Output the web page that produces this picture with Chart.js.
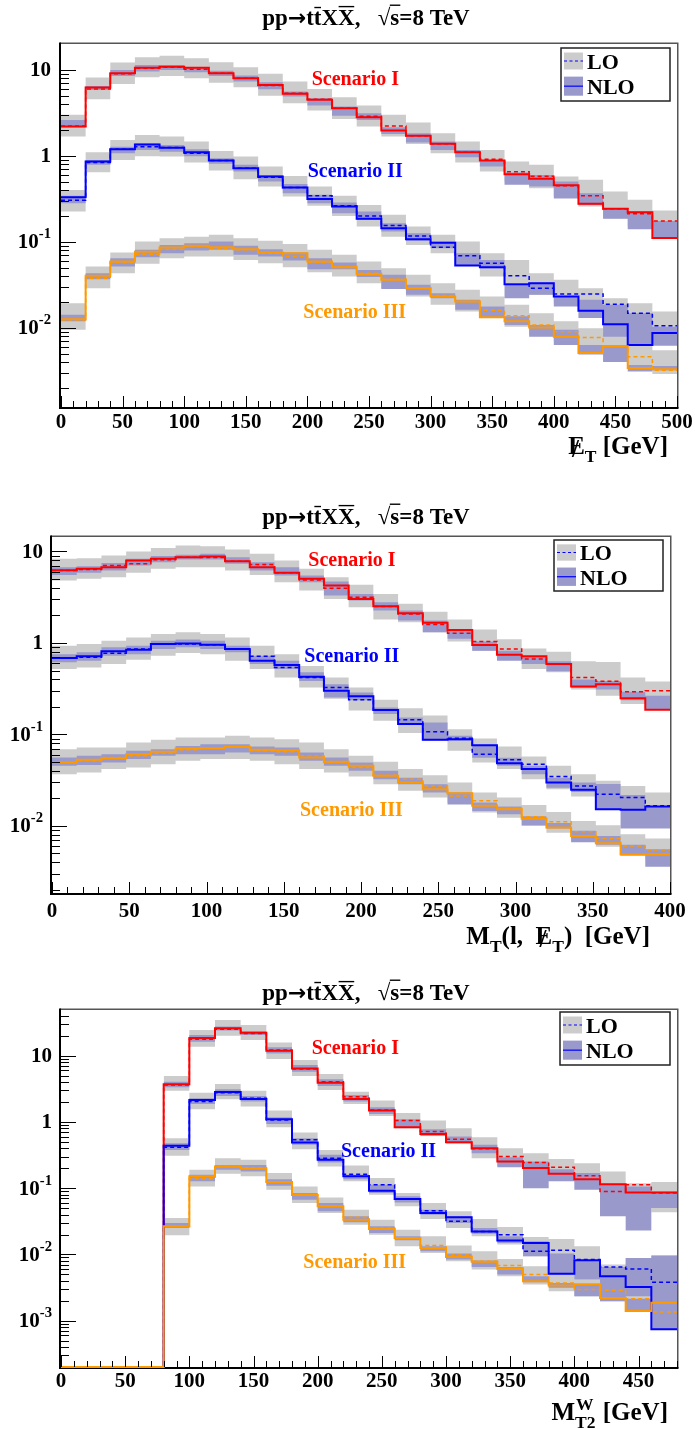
<!DOCTYPE html>
<html>
<head>
<meta charset="utf-8">
<title>pp → tt̄XX̄ at √s = 8 TeV</title>
<script src="https://cdn.jsdelivr.net/npm/chart.js@4.4.1/dist/chart.umd.min.js"></script>
<style>
  html, body { margin: 0; padding: 0; background: #fff; }
  body { width: 695px; height: 1429px; position: relative; overflow: hidden; }
  canvas { position: absolute; left: 0; }
</style>
</head>
<body>
<canvas id="met" width="695" height="475" style="top:0px"></canvas>
<canvas id="mt" width="695" height="485" style="top:475px"></canvas>
<canvas id="mt2" width="695" height="469" style="top:960px"></canvas>
<script>
// ---------------------------------------------------------------------------
// Missing transverse energy, 20 GeV bins
// ---------------------------------------------------------------------------
const metEdges = [0,20,40,60,80,100,120,140,160,180,200,220,240,260,280,300,320,340,360,380,400,420,440,460,480,500];
const metXTicks = [0,50,100,150,200,250,300,350,400,450,500];
const metYTicks = [1e-2, 1e-1, 1, 10];

const metS1Lo      = [2.23,6.01,8.99,10.45,10.7,10.2,9.15,8.0,6.57,5.35,4.56,3.58,2.89,2.23,1.71,1.38,1.10,0.914,0.652,0.580,0.448,0.343,0.242,0.212,0.175];
const metS1Nlo     = [2.19,6.23,9.15,10.6,10.9,10.6,9.15,8.0,6.69,5.26,4.48,3.58,2.82,1.97,1.71,1.38,1.10,0.883,0.612,0.541,0.456,0.277,0.242,0.221,0.111];
const metS1LoLow   = [1.68,4.56,6.87,8.2,8.5,8.0,7.1,6.28,4.99,4.10,3.37,2.69,2.19,1.68,1.37,1.07,0.837,0.657,0.503,0.421,0.337,0.258,0.188,0.151,0.110];
const metS1LoHigh  = [3.0,8.14,12.2,14.0,14.6,13.7,12.3,10.7,8.99,7.31,6.0,4.81,3.85,3.0,2.44,1.83,1.47,1.17,0.859,0.786,0.575,0.526,0.385,0.308,0.232];
const metS1NloLow  = [2.15,5.85,8.5,9.56,10.0,9.4,8.5,7.31,5.95,4.9,3.85,2.92,2.62,1.80,1.43,1.17,0.965,0.752,0.46,0.44,0.319,0.269,0.185,0.140,0.111];
const metS1NloHigh = [2.62,6.5,10.0,11.4,11.4,10.7,9.8,8.6,7.2,5.59,4.69,3.75,3.13,2.15,1.83,1.47,1.17,0.898,0.64,0.60,0.503,0.368,0.246,0.225,0.175];

const metS2Lo      = [0.305,0.837,1.19,1.28,1.25,1.07,0.882,0.719,0.565,0.429,0.343,0.263,0.200,0.155,0.117,0.0866,0.0687,0.0565,0.0403,0.0289,0.0248,0.0248,0.0188,0.0148,0.0106];
const metS2Nlo     = [0.331,0.859,1.19,1.36,1.24,1.10,0.882,0.719,0.575,0.429,0.316,0.258,0.185,0.144,0.107,0.0974,0.0531,0.0508,0.0322,0.0331,0.0232,0.0158,0.0110,0.0063,0.0087];
const metS2LoLow   = [0.225,0.645,0.898,0.99,0.982,0.837,0.675,0.535,0.44,0.337,0.263,0.200,0.151,0.115,0.0922,0.0739,0.0555,0.0396,0.0331,0.0242,0.0193,0.0162,0.0113,0.00947,0.00759];
const metS2LoHigh  = [0.40,1.10,1.53,1.75,1.68,1.47,1.14,0.982,0.752,0.585,0.44,0.343,0.269,0.206,0.151,0.121,0.101,0.0739,0.0617,0.0432,0.0362,0.0289,0.0221,0.0193,0.0155];
const metS2NloLow  = [0.282,0.786,1.07,1.17,1.12,0.99,0.81,0.657,0.503,0.368,0.282,0.215,0.180,0.132,0.103,0.0844,0.0526,0.0494,0.0221,0.0242,0.0177,0.0130,0.0079,0.0063,0.0062];
const metS2NloHigh = [0.343,0.898,1.28,1.40,1.34,1.19,0.939,0.786,0.601,0.472,0.352,0.287,0.225,0.165,0.126,0.101,0.0739,0.0617,0.0316,0.0337,0.0232,0.0212,0.0185,0.0148,0.0103];

const metS3Lo      = [0.0124,0.0378,0.0575,0.0719,0.0822,0.0882,0.0844,0.0808,0.0739,0.0675,0.0580,0.0517,0.0432,0.0368,0.0289,0.0238,0.0202,0.0160,0.0138,0.0108,0.0090,0.0077,0.0061,0.0046,0.0032];
const metS3Nlo     = [0.0126,0.0403,0.0590,0.0766,0.0859,0.0898,0.0866,0.0822,0.0752,0.0739,0.0590,0.0508,0.0421,0.0362,0.0289,0.0232,0.0202,0.0133,0.0119,0.0101,0.0079,0.0051,0.0061,0.0034,0.0033];
const metS3LoLow   = [0.0095,0.0289,0.0432,0.0555,0.0645,0.0675,0.0675,0.0617,0.0565,0.0508,0.0444,0.0396,0.0331,0.0289,0.0232,0.0185,0.0155,0.0130,0.0103,0.0083,0.0069,0.0053,0.0049,0.0034,0.0029];
const metS3LoHigh  = [0.0193,0.0517,0.0752,0.101,0.110,0.115,0.121,0.110,0.103,0.0947,0.0808,0.0706,0.0590,0.0494,0.0414,0.0331,0.0278,0.0232,0.0185,0.0148,0.0119,0.0099,0.0087,0.0063,0.0055];
const metS3NloLow  = [0.0119,0.0368,0.0517,0.0663,0.0739,0.0793,0.0808,0.0706,0.0675,0.0607,0.0481,0.0481,0.0389,0.0282,0.0242,0.0221,0.0162,0.0130,0.0108,0.0079,0.0063,0.0049,0.0040,0.0031,0.0032];
const metS3NloHigh = [0.0142,0.0432,0.0645,0.0808,0.0922,0.0965,0.101,0.0898,0.0822,0.0752,0.0645,0.0575,0.0472,0.0414,0.0316,0.0252,0.0212,0.0177,0.0136,0.0108,0.0095,0.0063,0.0063,0.0037,0.0036];

// ---------------------------------------------------------------------------
// Transverse mass of lepton and missing energy, 16 GeV bins
// ---------------------------------------------------------------------------
const mtEdges = [0,16,32,48,64,80,96,112,128,144,160,176,192,208,224,240,256,272,288,304,320,336,352,368,384,400];
const mtXTicks = [0,50,100,150,200,250,300,350,400];
const mtYTicks = [1e-2, 1e-1, 1, 10];

const mtS1Lo      = [6.19,6.35,7.03,7.33,8.11,8.67,8.60,7.84,7.21,5.84,4.89,3.97,3.16,2.50,2.08,1.59,1.28,1.04,0.860,0.668,0.589,0.420,0.381,0.293,0.300];
const mtS1Nlo     = [6.25,6.46,6.73,7.97,8.31,8.67,8.82,7.84,6.73,5.84,5.02,4.25,3.03,2.52,2.11,1.66,1.39,0.951,0.745,0.715,0.589,0.335,0.355,0.249,0.186];
const mtS1LoLow   = [4.81,5.02,5.24,5.84,6.46,6.73,6.73,6.19,5.55,4.61,3.74,3.03,2.46,1.80,1.68,1.31,1.04,0.82,0.68,0.52,0.48,0.31,0.265,0.215,0.19];
const mtS1LoHigh  = [8.31,8.45,9.04,10.0,10.9,11.6,11.4,10.5,9.43,7.97,6.46,5.24,4.32,3.44,2.68,2.20,1.80,1.40,1.10,0.87,0.80,0.63,0.62,0.42,0.38];
const mtS1NloLow  = [5.55,5.84,6.19,7.03,7.64,8.17,8.17,7.33,6.19,5.46,4.61,3.30,2.91,2.26,1.76,1.31,1.11,0.82,0.64,0.589,0.49,0.325,0.31,0.236,0.186];
const mtS1NloHigh = [6.73,6.9,7.5,8.31,8.9,9.2,9.43,8.67,7.64,6.73,5.46,4.70,3.44,2.79,2.26,1.76,1.42,1.04,0.82,0.72,0.63,0.40,0.385,0.293,0.265];

const mtS2Lo      = [0.685,0.697,0.771,0.860,0.975,0.975,0.959,0.860,0.715,0.541,0.420,0.327,0.240,0.185,0.145,0.107,0.0912,0.0609,0.0528,0.0473,0.0347,0.0274,0.0222,0.0205,0.0166];
const mtS2Nlo     = [0.685,0.715,0.811,0.845,0.975,0.99,0.959,0.860,0.640,0.575,0.428,0.300,0.261,0.185,0.130,0.0874,0.0889,0.0764,0.0486,0.0418,0.0298,0.0249,0.0152,0.0150,0.0163];
const mtS2LoLow   = [0.52,0.541,0.589,0.657,0.727,0.777,0.755,0.640,0.52,0.42,0.327,0.245,0.183,0.141,0.104,0.0852,0.0663,0.0494,0.0418,0.0324,0.0252,0.0210,0.0166,0.0152,0.0128];
const mtS2LoHigh  = [0.935,0.975,1.06,1.15,1.25,1.31,1.25,1.15,0.935,0.755,0.56,0.42,0.327,0.240,0.194,0.161,0.114,0.0904,0.0739,0.0575,0.0454,0.0368,0.0311,0.0274,0.0232];
const mtS2NloLow  = [0.617,0.640,0.727,0.755,0.86,0.90,0.86,0.79,0.589,0.52,0.385,0.253,0.236,0.167,0.130,0.0874,0.0852,0.0557,0.0454,0.0368,0.0262,0.0235,0.0152,0.00935,0.00935];
const mtS2NloHigh = [0.755,0.79,0.90,0.935,1.06,1.09,1.06,0.935,0.727,0.640,0.48,0.355,0.287,0.197,0.153,0.135,0.0967,0.0764,0.0557,0.0454,0.0337,0.0298,0.0287,0.0218,0.0163];

const mtS3Lo      = [0.0494,0.0515,0.0560,0.0584,0.0625,0.0679,0.0709,0.0733,0.0663,0.0646,0.0584,0.0494,0.0436,0.0358,0.0324,0.0274,0.0213,0.0188,0.0155,0.0126,0.0111,0.00867,0.00727,0.00604,0.00546];
const mtS3Nlo     = [0.0494,0.0528,0.0551,0.0609,0.0646,0.0703,0.0709,0.0733,0.0679,0.0673,0.0560,0.0502,0.0454,0.0353,0.0298,0.0252,0.0228,0.0166,0.0152,0.0120,0.00959,0.00777,0.00646,0.00489,0.00489];
const mtS3LoLow   = [0.0368,0.0383,0.0418,0.0436,0.0473,0.0515,0.0538,0.0538,0.0515,0.0473,0.0418,0.0383,0.0347,0.0286,0.0242,0.0205,0.0180,0.0140,0.0123,0.0100,0.00845,0.00685,0.00594,0.00469,0.00432];
const mtS3LoHigh  = [0.069,0.072,0.072,0.0817,0.0874,0.0927,0.0927,0.0967,0.0927,0.0889,0.0817,0.069,0.0584,0.0502,0.0418,0.0358,0.0298,0.0232,0.0205,0.0169,0.0142,0.0113,0.0102,0.00811,0.00727];
const mtS3NloLow  = [0.0454,0.0463,0.0494,0.0538,0.0584,0.0609,0.0609,0.0635,0.0609,0.0584,0.0515,0.0454,0.040,0.0324,0.0286,0.0232,0.0172,0.0146,0.0134,0.0102,0.00935,0.00663,0.00622,0.00489,0.00358];
const mtS3NloHigh = [0.056,0.0584,0.0609,0.0663,0.069,0.0748,0.078,0.078,0.0739,0.072,0.0635,0.056,0.0494,0.040,0.0337,0.0286,0.0232,0.0180,0.0163,0.0128,0.0108,0.00885,0.00777,0.00622,0.00555];

// ---------------------------------------------------------------------------
// M_T2^W, 20 GeV bins (no events below 80 GeV)
// ---------------------------------------------------------------------------
const mt2Edges = [0,20,40,60,80,100,120,140,160,180,200,220,240,260,280,300,320,340,360,380,400,420,440,460,480];
const mt2XTicks = [0,50,100,150,200,250,300,350,400,450];
const mt2YTicks = [1e-3, 1e-2, 1e-1, 1, 10];

const mt2S1Lo      = [0,0,0,0,3.61,17.8,25.2,21.7,12.2,6.30,4.06,2.41,1.52,1.05,0.716,0.549,0.393,0.301,0.245,0.208,0.154,0.0895,0.113,0.0845];
const mt2S1Nlo     = [0,0,0,0,3.70,18.5,25.9,22.2,11.9,6.44,3.92,2.22,1.49,0.834,0.661,0.495,0.402,0.253,0.201,0.165,0.137,0.115,0.0865,0.0865];
const mt2S1LoLow   = [null,null,null,null,2.97,13.7,20.0,17.2,8.9,4.94,3.04,1.87,1.23,0.805,0.617,0.478,0.284,0.218,0.19,0.151,0.127,0.0845,0.0597,0.0432];
const mt2S1LoHigh  = [null,null,null,null,4.94,24.4,34.5,29.0,15.9,8.61,5.30,2.87,2.10,1.36,1.05,0.805,0.589,0.40,0.338,0.275,0.239,0.179,0.119,0.124];
const mt2S1NloLow  = [null,null,null,null,3.34,16.3,24.0,20.5,10.8,5.74,3.49,2.03,1.32,0.834,0.617,0.478,0.338,0.208,0.10,0.127,0.0948,0.0376,0.0229,0.0503];
const mt2S1NloHigh = [null,null,null,null,4.06,20.5,27.5,23.5,13.4,7.23,4.41,2.56,1.67,1.10,0.778,0.603,0.452,0.294,0.253,0.194,0.169,0.117,0.106,0.0895];

const mt2S2Lo      = [0,0,0,0,0.417,2.03,2.77,2.28,1.07,0.537,0.284,0.163,0.113,0.0686,0.0458,0.0316,0.0223,0.0199,0.0112,0.0116,0.00838,0.00649,0.00605,0.00381];
const mt2S2Nlo     = [0,0,0,0,0.436,2.15,2.84,2.22,1.10,0.49,0.269,0.151,0.0916,0.0686,0.0423,0.0363,0.0223,0.0162,0.0149,0.0051,0.00818,0.0047,0.00324,0.00074];
const mt2S2LoLow   = [null,null,null,null,0.308,1.56,2.20,1.71,0.834,0.388,0.213,0.127,0.0798,0.0532,0.0343,0.0251,0.0188,0.0141,0.0094,0.00745,0.00418,0.00395,0.00332,0.00197];
const mt2S2LoHigh  = [null,null,null,null,0.569,2.77,3.74,2.97,1.49,0.692,0.379,0.22,0.142,0.0845,0.0597,0.0448,0.0343,0.026,0.0184,0.0171,0.0133,0.00703,0.00887,0.00962];
const mt2S2NloLow  = [null,null,null,null,0.379,1.87,2.47,2.03,0.935,0.452,0.245,0.137,0.0845,0.0611,0.0398,0.0299,0.0206,0.0149,0.0094,0.00498,0.00418,0.00234,0.00234,0.00074];
const mt2S2NloHigh = [null,null,null,null,0.478,2.28,3.11,2.47,1.18,0.569,0.319,0.16,0.113,0.0753,0.0474,0.0376,0.0251,0.0188,0.0158,0.0103,0.00818,0.00649,0.00887,0.00962];

const mt2S3Lo      = [0,0,0,0,0.0266,0.139,0.213,0.203,0.124,0.078,0.0544,0.0363,0.0251,0.0177,0.0136,0.00984,0.00791,0.00679,0.00498,0.00372,0.00296,0.00289,0.00214,0.00135];
const mt2S3Nlo     = [0,0,0,0,0.0266,0.151,0.213,0.199,0.124,0.0789,0.0532,0.0335,0.0243,0.0177,0.0125,0.00918,0.00773,0.00605,0.00395,0.0034,0.00356,0.00221,0.0014,0.00186];
const mt2S3LoLow   = [null,null,null,null,0.0195,0.106,0.165,0.151,0.0948,0.0597,0.0423,0.0282,0.0199,0.0133,0.0105,0.00791,0.00591,0.0047,0.00352,0.00279,0.00234,0.00197,0.00148,0.00104];
const mt2S3LoHigh  = [null,null,null,null,0.0355,0.19,0.284,0.269,0.169,0.106,0.0726,0.0474,0.0335,0.0237,0.0188,0.0136,0.0112,0.00857,0.00664,0.00498,0.00418,0.00372,0.00296,0.00264];
const mt2S3NloLow  = [null,null,null,null,0.0251,0.127,0.19,0.179,0.109,0.067,0.0448,0.0306,0.0211,0.0164,0.0112,0.00838,0.00649,0.00498,0.00381,0.00313,0.00234,0.00197,0.0014,0.00104];
const mt2S3NloHigh = [null,null,null,null,0.0299,0.16,0.225,0.225,0.137,0.0845,0.0597,0.0376,0.0266,0.0188,0.0133,0.0103,0.00809,0.00649,0.0047,0.00372,0.00352,0.00264,0.00214,0.00186];

const scenarioNames = ['Scenario I', 'Scenario II', 'Scenario III'];

// ---------------------------------------------------------------------------
// Styling
// ---------------------------------------------------------------------------
const FONT = '"Liberation Serif", "Times New Roman", Times, serif';
const SCEN_COLORS = ['#ff0000', '#0000ff', '#ff9900'];
const LO_BAND = '#cccccc';
const NLO_BAND = '#9999cc';
const NONE = 'rgba(0,0,0,0)';

// Histogram contents become step-line points at the left edge of each bin,
// closed by one point at the last upper edge. Empty bins sit on the frame floor.
function stepData(edges, values, floor) {
  const fix = v => (v === null ? null : (v > 0 ? v : floor));
  const pts = values.map((v, i) => ({ x: edges[i], y: fix(v) }));
  pts.push({ x: edges[values.length], y: fix(values[values.length - 1]) });
  return pts;
}

function buildDatasets(edges, scens, floor) {
  const common = { stepped: true, pointRadius: 0, pointHoverRadius: 0, tension: 0, spanGaps: false };
  const lines = [], loLines = [];
  // later scenarios drawn on top
  for (let i = scens.length - 1; i >= 0; i--) {
    const s = scens[i];
    lines.push({ ...common, data: stepData(edges, s.nlo, floor), borderColor: s.color,
      borderWidth: 2, fill: false, order: 0, clip: false });
    loLines.push({ ...common, data: stepData(edges, s.lo, floor), borderColor: s.color,
      borderWidth: 1.5, borderDash: [4, 3], fill: false, order: 1, clip: false });
  }
  const ds = [...lines, ...loLines];
  scens.forEach(s => {
    ds.push({ ...common, data: stepData(edges, s.nloHigh, floor), borderColor: NONE, borderWidth: 0,
      backgroundColor: NLO_BAND, fill: '+1', order: 2 });
    ds.push({ ...common, data: stepData(edges, s.nloLow, floor), borderColor: NONE, borderWidth: 0,
      fill: false, order: 2 });
  });
  scens.forEach(s => {
    ds.push({ ...common, data: stepData(edges, s.loHigh, floor), borderColor: NONE, borderWidth: 0,
      backgroundColor: LO_BAND, fill: '+1', order: 3 });
    ds.push({ ...common, data: stepData(edges, s.loLow, floor), borderColor: NONE, borderWidth: 0,
      fill: false, order: 3 });
  });
  return ds;
}

// Mixed-style text: sub/superscripts, overlines, slashed letters, alternate fonts
function drawRich(ctx, parts, x, y, align, size, color) {
  const small = size * 0.7;
  const fontOf = (p, fs) => `bold ${fs}px ${p.font || FONT}`;
  const items = parts.map(p => {
    if (p.stack) {
      ctx.font = `bold ${small}px ${FONT}`;
      return { p, w: Math.max(...p.stack.map(s => ctx.measureText(s).width)) + 1 };
    }
    const fs = (p.sub || p.sup) ? small : size * (p.scale || 1);
    ctx.font = fontOf(p, fs);
    return { p, fs, w: ctx.measureText(p.t).width };
  });
  const total = items.reduce((a, it) => a + it.w, 0);
  let cx = align === 'center' ? x - total / 2 : (align === 'right' ? x - total : x);
  ctx.save();
  ctx.fillStyle = color; ctx.strokeStyle = color;
  ctx.textAlign = 'left'; ctx.textBaseline = 'alphabetic';
  for (const it of items) {
    const p = it.p;
    if (p.stack) {
      ctx.font = `bold ${small}px ${FONT}`;
      ctx.fillText(p.stack[0], cx + 1, y - size * 0.42);
      ctx.fillText(p.stack[1], cx, y + size * 0.3);
    } else {
      ctx.font = fontOf(p, it.fs);
      const dy = p.sub ? size * 0.3 : (p.sup ? -size * 0.42 : (p.dy || 0) * size);
      ctx.fillText(p.t, cx, y + dy);
      if (p.over) {
        ctx.lineWidth = Math.max(1.2, size * 0.06);
        ctx.beginPath();
        ctx.moveTo(cx + (p.overL || 0.5), y - size * p.over);
        ctx.lineTo(cx + it.w + (p.overR || -0.5), y - size * p.over);
        ctx.stroke();
      }
      if (p.slash) {
        const sw = ctx.measureText('/').width;
        ctx.fillText('/', cx + it.w / 2 - sw / 2 - 1, y + size * 0.1);
      }
    }
    cx += it.w;
  }
  ctx.restore();
}

const titleParts = [
  { t: 'pp' }, { t: '→', font: '"DejaVu Sans", sans-serif', scale: 0.95, dy: -0.02 }, { t: 't' },
  { t: 't', over: 0.76 }, { t: 'X' }, { t: 'X', over: 0.80 },
  { t: ',   ' }, { t: '√' }, { t: 's', over: 0.86, overL: -0.5, overR: 1 }, { t: '=8 TeV' }
];

function powLabel(ctx, k, xr, y, size) {
  ctx.textAlign = 'right';
  ctx.textBaseline = 'middle';
  ctx.font = `bold ${size}px ${FONT}`;
  if (k === 0) { ctx.fillText('1', xr, y); return; }
  if (k === 1) { ctx.fillText('10', xr, y); return; }
  const sup = String(k);
  ctx.font = `bold ${size * 0.7}px ${FONT}`;
  const w = ctx.measureText(sup).width;
  ctx.fillText(sup, xr, y - size * 0.4);
  ctx.font = `bold ${size}px ${FONT}`;
  ctx.fillText('10', xr - w, y);
}

function decoPlugin(spec) {
  return {
    id: 'panelDeco',
    beforeDatasetsDraw(chart) {
      const { ctx, chartArea: a } = chart;
      ctx.save();
      // top and right frame lines
      ctx.strokeStyle = '#555'; ctx.lineWidth = 1.5;
      ctx.beginPath();
      ctx.moveTo(a.left - 1, a.top - 0.75);
      ctx.lineTo(a.right + 0.75, a.top - 0.75);
      ctx.lineTo(a.right + 0.75, a.bottom + 1);
      ctx.stroke();
      // axes
      ctx.strokeStyle = '#000'; ctx.lineWidth = 2;
      ctx.beginPath();
      ctx.moveTo(a.left - 1, a.top - 1.5);
      ctx.lineTo(a.left - 1, a.bottom + 1);
      ctx.lineTo(a.right + 1.5, a.bottom + 1);
      ctx.stroke();
      ctx.restore();
    },
    afterDatasetsDraw(chart) {
      const { ctx, chartArea: a, scales: { x, y } } = chart;
      ctx.save();
      ctx.strokeStyle = '#000'; ctx.lineWidth = 1;
      ctx.beginPath();
      const kMin = Math.floor(Math.log10(y.min)), kMax = Math.ceil(Math.log10(y.max));
      for (let k = kMin; k <= kMax; k++) {
        for (let d = 1; d <= 9; d++) {
          const v = d * Math.pow(10, k);
          if (v <= y.min || v >= y.max) continue;
          const py = Math.round(y.getPixelForValue(v)) + 0.5;
          ctx.moveTo(a.left, py);
          ctx.lineTo(a.left + (d === 1 ? 15 : 8), py);
        }
      }
      for (let v = x.min; v <= x.max + 1e-6; v += spec.xMinor) {
        const px = Math.round(x.getPixelForValue(v)) + 0.5;
        const major = Math.abs(v / spec.xMajor - Math.round(v / spec.xMajor)) < 1e-6;
        ctx.moveTo(px, a.bottom);
        ctx.lineTo(px, a.bottom - (major ? 11 : 6));
      }
      ctx.stroke();
      ctx.restore();
    },
    afterDraw(chart) {
      const { ctx, scales: { x, y } } = chart;
      ctx.save();
      ctx.fillStyle = '#000';
      // x tick labels
      ctx.font = `bold 21px ${FONT}`;
      ctx.textAlign = 'center'; ctx.textBaseline = 'alphabetic';
      spec.xTicks.forEach(v => ctx.fillText(String(v), x.getPixelForValue(v), spec.xLabelY));
      // y tick labels
      spec.yTicks.forEach(v => powLabel(ctx, Math.round(Math.log10(v)), spec.yLabelX, y.getPixelForValue(v) + 1, 21));
      // title and axis title
      drawRich(ctx, titleParts, spec.titleX, spec.titleY, 'center', 23, '#000');
      drawRich(ctx, spec.axisTitle, spec.axisTitleX, spec.axisTitleY, 'right', 25, '#000');
      // scenario labels
      ctx.font = `bold 20px ${FONT}`;
      ctx.textAlign = 'left'; ctx.textBaseline = 'alphabetic';
      spec.scenarioPos.forEach((pos, i) => {
        ctx.fillStyle = SCEN_COLORS[i];
        ctx.fillText(scenarioNames[i], pos[0], pos[1]);
      });
      // legend
      const [lx, ly, lw, lh] = spec.legend;
      ctx.fillStyle = '#fff';
      ctx.fillRect(lx, ly, lw, lh);
      ctx.strokeStyle = '#222'; ctx.lineWidth = 1.5;
      ctx.strokeRect(lx, ly, lw, lh);
      const sx = lx + 3, sw = 19;
      const r1 = ly + lh * 0.085, h1 = lh * 0.32;
      const r2 = ly + lh * 0.54, h2 = lh * 0.36;
      ctx.fillStyle = LO_BAND; ctx.fillRect(sx, r1, sw, h1);
      ctx.fillStyle = NLO_BAND; ctx.fillRect(sx, r2, sw, h2);
      ctx.strokeStyle = '#0000ff'; ctx.lineWidth = 1.2;
      ctx.setLineDash([3, 2.5]);
      ctx.beginPath(); ctx.moveTo(sx, r1 + h1 / 2); ctx.lineTo(sx + sw, r1 + h1 / 2); ctx.stroke();
      ctx.setLineDash([]);
      ctx.beginPath(); ctx.moveTo(sx, r2 + h2 / 2); ctx.lineTo(sx + sw, r2 + h2 / 2); ctx.stroke();
      ctx.fillStyle = '#000';
      ctx.font = `bold 22px ${FONT}`;
      ctx.fillText('LO', lx + 26, r1 + h1 / 2 + 8);
      ctx.fillText('NLO', lx + 26, r2 + h2 / 2 + 8);
      ctx.restore();
    }
  };
}

function makePanel(id, cfg) {
  const ctx = document.getElementById(id);
  const h = ctx.height, w = ctx.width;
  const f = cfg.frame;
  return new Chart(ctx, {
    type: 'line',
    data: { datasets: buildDatasets(cfg.edges, cfg.scenarios, cfg.yRange[0]) },
    options: {
      responsive: false,
      animation: false,
      devicePixelRatio: 1,
      events: [],
      layout: { padding: { left: f[0], top: f[1], right: w - f[2], bottom: h - f[3] } },
      scales: {
        x: { type: 'linear', min: cfg.xRange[0], max: cfg.xRange[1], display: false },
        y: { type: 'logarithmic', min: cfg.yRange[0], max: cfg.yRange[1], display: false }
      },
      plugins: { legend: { display: false }, tooltip: { enabled: false }, filler: { propagate: false } }
    },
    plugins: [decoPlugin(cfg.deco)]
  });
}

function scen(color, lo, nlo, loLow, loHigh, nloLow, nloHigh) {
  return { color, lo, nlo, loLow, loHigh, nloLow, nloHigh };
}

makePanel('met', {
  edges: metEdges, xRange: [0, 500], yRange: [1.2e-3, 20], frame: [61, 44, 677, 407],
  scenarios: [
    scen(SCEN_COLORS[0], metS1Lo, metS1Nlo, metS1LoLow, metS1LoHigh, metS1NloLow, metS1NloHigh),
    scen(SCEN_COLORS[1], metS2Lo, metS2Nlo, metS2LoLow, metS2LoHigh, metS2NloLow, metS2NloHigh),
    scen(SCEN_COLORS[2], metS3Lo, metS3Nlo, metS3LoLow, metS3LoHigh, metS3NloLow, metS3NloHigh)
  ],
  deco: {
    xTicks: metXTicks, yTicks: metYTicks, xMajor: 50, xMinor: 10,
    xLabelY: 428, yLabelX: 51, titleX: 366, titleY: 25,
    axisTitle: [{ t: 'E', slash: true }, { t: 'T', sub: true }, { t: ' [GeV]' }],
    axisTitleX: 668, axisTitleY: 454,
    scenarioPos: [[311.7, 85], [307.7, 177.3], [303.3, 317.7]],
    legend: [561, 48, 109, 53]
  }
});

makePanel('mt', {
  edges: mtEdges, xRange: [0, 400], yRange: [1.85e-3, 14.4], frame: [52, 62, 670, 418],
  scenarios: [
    scen(SCEN_COLORS[0], mtS1Lo, mtS1Nlo, mtS1LoLow, mtS1LoHigh, mtS1NloLow, mtS1NloHigh),
    scen(SCEN_COLORS[1], mtS2Lo, mtS2Nlo, mtS2LoLow, mtS2LoHigh, mtS2NloLow, mtS2NloHigh),
    scen(SCEN_COLORS[2], mtS3Lo, mtS3Nlo, mtS3LoLow, mtS3LoHigh, mtS3NloLow, mtS3NloHigh)
  ],
  deco: {
    xTicks: mtXTicks, yTicks: mtYTicks, xMajor: 50, xMinor: 10,
    xLabelY: 442, yLabelX: 43, titleX: 366, titleY: 49,
    axisTitle: [{ t: 'M' }, { t: 'T', sub: true }, { t: '(l,  ' }, { t: 'E', slash: true },
                { t: 'T', sub: true }, { t: ')  [GeV]' }],
    axisTitleX: 650, axisTitleY: 469,
    scenarioPos: [[308.3, 90.7], [304.3, 187.3], [300, 340.7]],
    legend: [554, 65, 109, 51]
  }
});

makePanel('mt2', {
  edges: mt2Edges, xRange: [0, 480], yRange: [2.0e-4, 49], frame: [61, 50, 677, 407],
  scenarios: [
    scen(SCEN_COLORS[0], mt2S1Lo, mt2S1Nlo, mt2S1LoLow, mt2S1LoHigh, mt2S1NloLow, mt2S1NloHigh),
    scen(SCEN_COLORS[1], mt2S2Lo, mt2S2Nlo, mt2S2LoLow, mt2S2LoHigh, mt2S2NloLow, mt2S2NloHigh),
    scen(SCEN_COLORS[2], mt2S3Lo, mt2S3Nlo, mt2S3LoLow, mt2S3LoHigh, mt2S3NloLow, mt2S3NloHigh)
  ],
  deco: {
    xTicks: mt2XTicks, yTicks: mt2YTicks, xMajor: 50, xMinor: 10,
    xLabelY: 427, yLabelX: 52, titleX: 366, titleY: 40,
    axisTitle: [{ t: 'M' }, { stack: ['W', 'T2'] }, { t: ' [GeV]' }],
    axisTitleX: 668, axisTitleY: 460,
    scenarioPos: [[311.7, 94], [341, 196.7], [303.3, 308.3]],
    legend: [560, 52, 110, 53]
  }
});
</script>
</body>
</html>
